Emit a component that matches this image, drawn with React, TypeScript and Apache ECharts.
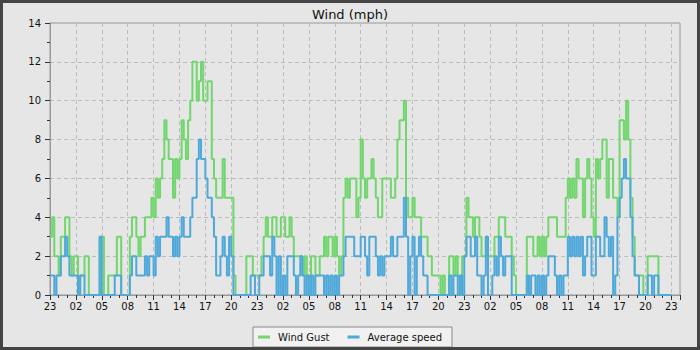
import React, { useEffect, useRef } from "react";
import * as echarts from "echarts";

// Time axis: hours since 23:00 on the first day; samples every 15 minutes.
const START_HOUR = 23;
const STEP_HOURS = 0.25;
const AXIS_MAX_HOURS = 73;
const xTickHours = [0, 3, 6, 9, 12, 15, 18, 21, 24, 27, 30, 33, 36, 39, 42, 45, 48, 51, 54, 57, 60, 63, 66, 69, 72];
const yTicks = [0, 2, 4, 6, 8, 10, 12, 14];

const seriesNames = ["Wind Gust", "Average speed"];

// Wind gust (mph), four 15-minute samples per hour
const gustDay1 = [
  3, 4, 2, 2, 1, 3, 3, 4, 4, 2, 1, 2, 2, 0, 1, 1, 2, 2, 0, 0, 0, 0, 0, 3,
  3, 0, 0, 1, 1, 1, 1, 3, 3, 0, 0, 0, 0, 3, 4, 4, 3, 2, 3, 3, 4, 4, 4, 5,
  4, 6, 5, 6, 7, 9, 8, 7, 7, 5, 7, 6, 7, 9, 8, 7, 9, 10, 12, 12, 10, 11, 12, 10,
  10, 11, 11, 7, 6, 5, 5, 5, 7, 5, 5, 5, 5, 1, 0, 0, 0, 0, 0, 2, 2, 2, 1, 1,
];
const gustDay2 = [
  1, 1, 2, 3, 4, 3, 3, 4, 4, 3, 3, 4, 4, 3, 3, 4, 3, 2, 2, 2, 2, 1, 2, 1,
  1, 2, 2, 1, 1, 2, 2, 3, 2, 3, 3, 2, 3, 2, 1, 2, 5, 6, 5, 6, 6, 6, 4, 5,
  8, 6, 5, 6, 6, 7, 6, 5, 4, 4, 6, 6, 6, 6, 5, 5, 6, 8, 9, 9, 10, 5, 4, 4,
  5, 4, 4, 4, 3, 3, 3, 2, 2, 1, 1, 1, 1, 0, 1, 0, 0, 2, 2, 1, 2, 1, 0, 2,
];
const gustDay3 = [
  2, 5, 4, 4, 3, 4, 4, 3, 2, 2, 3, 2, 2, 2, 3, 3, 4, 4, 4, 3, 3, 3, 2, 1,
  0, 0, 0, 0, 0, 3, 3, 3, 2, 2, 3, 2, 3, 2, 3, 4, 4, 4, 4, 3, 3, 3, 3, 5,
  6, 5, 6, 5, 7, 6, 6, 4, 6, 7, 6, 4, 3, 7, 6, 7, 8, 8, 5, 7, 7, 5, 5, 4,
  9, 9, 8, 10, 8, 5, 3, 1, 1, 1, 1, 0, 0, 2, 2, 2, 2, 2, 0, 0, 0, 0, 0, 0,
];
const gustEnd = [0];

// Average speed (mph), four 15-minute samples per hour
const avgDay1 = [
  1, 1, 0, 1, 1, 2, 2, 3, 2, 1, 1, 1, 1, 0, 1, 1, 0, 0, 0, 0, 0, 0, 0, 3,
  0, 0, 0, 0, 0, 0, 1, 1, 1, 0, 0, 0, 0, 1, 2, 2, 1, 1, 1, 1, 2, 1, 2, 2,
  1, 3, 2, 3, 3, 3, 4, 3, 3, 2, 3, 2, 3, 4, 3, 3, 3, 4, 5, 5, 7, 8, 7, 7,
  6, 5, 5, 4, 3, 1, 1, 2, 3, 2, 1, 3, 2, 0, 0, 0, 0, 0, 0, 0, 0, 1, 1, 0,
];
const avgDay2 = [
  0, 1, 1, 2, 2, 2, 1, 3, 2, 0, 2, 0, 1, 0, 2, 2, 2, 1, 0, 1, 2, 1, 0, 1,
  0, 1, 0, 1, 1, 1, 1, 0, 1, 0, 1, 0, 1, 0, 1, 1, 2, 3, 3, 3, 3, 2, 2, 2,
  3, 3, 2, 1, 3, 3, 3, 2, 1, 2, 1, 2, 2, 2, 3, 2, 2, 3, 3, 3, 5, 3, 0, 2,
  3, 0, 2, 3, 2, 1, 1, 0, 0, 0, 0, 0, 0, 0, 0, 0, 0, 1, 0, 1, 1, 0, 1, 0,
];
const avgDay3 = [
  2, 3, 3, 2, 2, 3, 1, 1, 0, 1, 3, 0, 0, 1, 2, 1, 3, 2, 1, 2, 2, 2, 0, 0,
  0, 0, 0, 0, 0, 1, 0, 1, 1, 0, 1, 0, 1, 0, 1, 2, 2, 2, 1, 0, 1, 0, 1, 1,
  3, 2, 3, 2, 3, 2, 3, 1, 2, 3, 3, 1, 1, 3, 3, 2, 2, 4, 3, 2, 3, 0, 1, 4,
  5, 6, 7, 6, 6, 4, 2, 1, 1, 0, 0, 0, 0, 1, 1, 0, 1, 1, 0, 0, 0, 0, 0, 0,
];
const avgEnd = [0];

const gustValues = [...gustDay1, ...gustDay2, ...gustDay3, ...gustEnd];
const avgValues = [...avgDay1, ...avgDay2, ...avgDay3, ...avgEnd];

const toPoints = (vals: number[]) => vals.map((v, i) => [i * STEP_HOURS, v]);

const FONT = "DejaVu Sans";
const TEXT = "#111111";
const GREEN = "#72d66e";
const BLUE = "#4ea9da";

function buildOption(): any {
  return {
    animation: false,
    backgroundColor: "#e6e6e6",
    title: {
      text: "Wind (mph)",
      left: "center",
      top: 3,
      textStyle: { fontFamily: FONT, fontSize: 13, fontWeight: "normal", color: TEXT },
    },
    legend: {
      data: seriesNames,
      left: "center",
      top: 327,
      icon: "rect",
      itemWidth: 12,
      itemHeight: 3,
      itemGap: 18,
      padding: [4, 10, 4, 5],
      backgroundColor: "#f1f1f1",
      borderColor: "#8a8a8a",
      borderWidth: 1,
      borderRadius: 0,
      textStyle: { fontFamily: FONT, fontSize: 10, color: TEXT, padding: [0, 0, 0, 3], lineHeight: 12 },
    },
    grid: {
      left: 50,
      right: 20,
      top: 23,
      bottom: 55,
      show: true,
      borderColor: "#999999",
      borderWidth: 1,
      backgroundColor: "transparent",
    },
    xAxis: [
      {
        type: "value",
        min: 0,
        max: AXIS_MAX_HOURS,
        interval: 3,
        axisLine: { show: true, lineStyle: { color: "#999999", width: 1 } },
        axisTick: { show: true, length: 5, lineStyle: { color: "#333333" } },
        axisLabel: {
          fontFamily: FONT,
          fontSize: 10,
          color: TEXT,
          margin: 6,
          formatter: (v: number) => {
            if (!xTickHours.includes(Math.round(v * 1000) / 1000)) return "";
            const hh = (START_HOUR + Math.round(v)) % 24;
            return String(hh).padStart(2, "0");
          },
        },
        splitLine: { show: true, lineStyle: { color: "#bcbcbc", type: [4, 3], width: 1 } },
      },
      {
        type: "value",
        min: 0,
        max: AXIS_MAX_HOURS,
        interval: 1,
        position: "bottom",
        axisLine: { show: false },
        axisTick: { show: true, length: 3, lineStyle: { color: "#333333" } },
        axisLabel: { show: false },
        splitLine: { show: false },
      },
    ],
    yAxis: {
      type: "value",
      min: yTicks[0],
      max: yTicks[yTicks.length - 1],
      interval: 2,
      axisLine: { show: true, lineStyle: { color: "#999999", width: 1 } },
      axisTick: { show: true, length: 5, lineStyle: { color: "#333333" } },
      minorTick: { show: true, splitNumber: 2, length: 3, lineStyle: { color: "#333333" } },
      axisLabel: { fontFamily: FONT, fontSize: 10, color: TEXT, margin: 9 },
      splitLine: { show: true, lineStyle: { color: "#bcbcbc", type: [4, 3], width: 1 } },
    },
    series: [
      {
        name: seriesNames[0],
        type: "line",
        step: "end",
        xAxisIndex: 0,
        showSymbol: false,
        symbol: "none",
        color: GREEN,
        lineStyle: { color: GREEN, width: 2 },
        data: toPoints(gustValues),
        z: 2,
      },
      {
        name: seriesNames[1],
        type: "line",
        step: "end",
        xAxisIndex: 0,
        showSymbol: false,
        symbol: "none",
        color: BLUE,
        lineStyle: { color: BLUE, width: 2 },
        data: toPoints(avgValues),
        z: 3,
      },
    ],
    graphic: [
      {
        type: "rect",
        shape: { x: 1.5, y: 1.5, width: 697, height: 347 },
        style: { fill: "none", stroke: "#444444", lineWidth: 3 },
        silent: true,
        z: 100,
      },
    ],
  };
}

export default function App() {
  const ref = useRef<HTMLDivElement>(null);
  useEffect(() => {
    document.body.style.margin = "0";
    if (!ref.current) return;
    const chart = echarts.init(ref.current, null, { renderer: "svg" });
    chart.setOption(buildOption());
    return () => chart.dispose();
  }, []);
  return (
    <div
      ref={ref}
      style={{ position: "fixed", left: 0, top: 0, width: 700, height: 350, background: "#e6e6e6" }}
    />
  );
}
